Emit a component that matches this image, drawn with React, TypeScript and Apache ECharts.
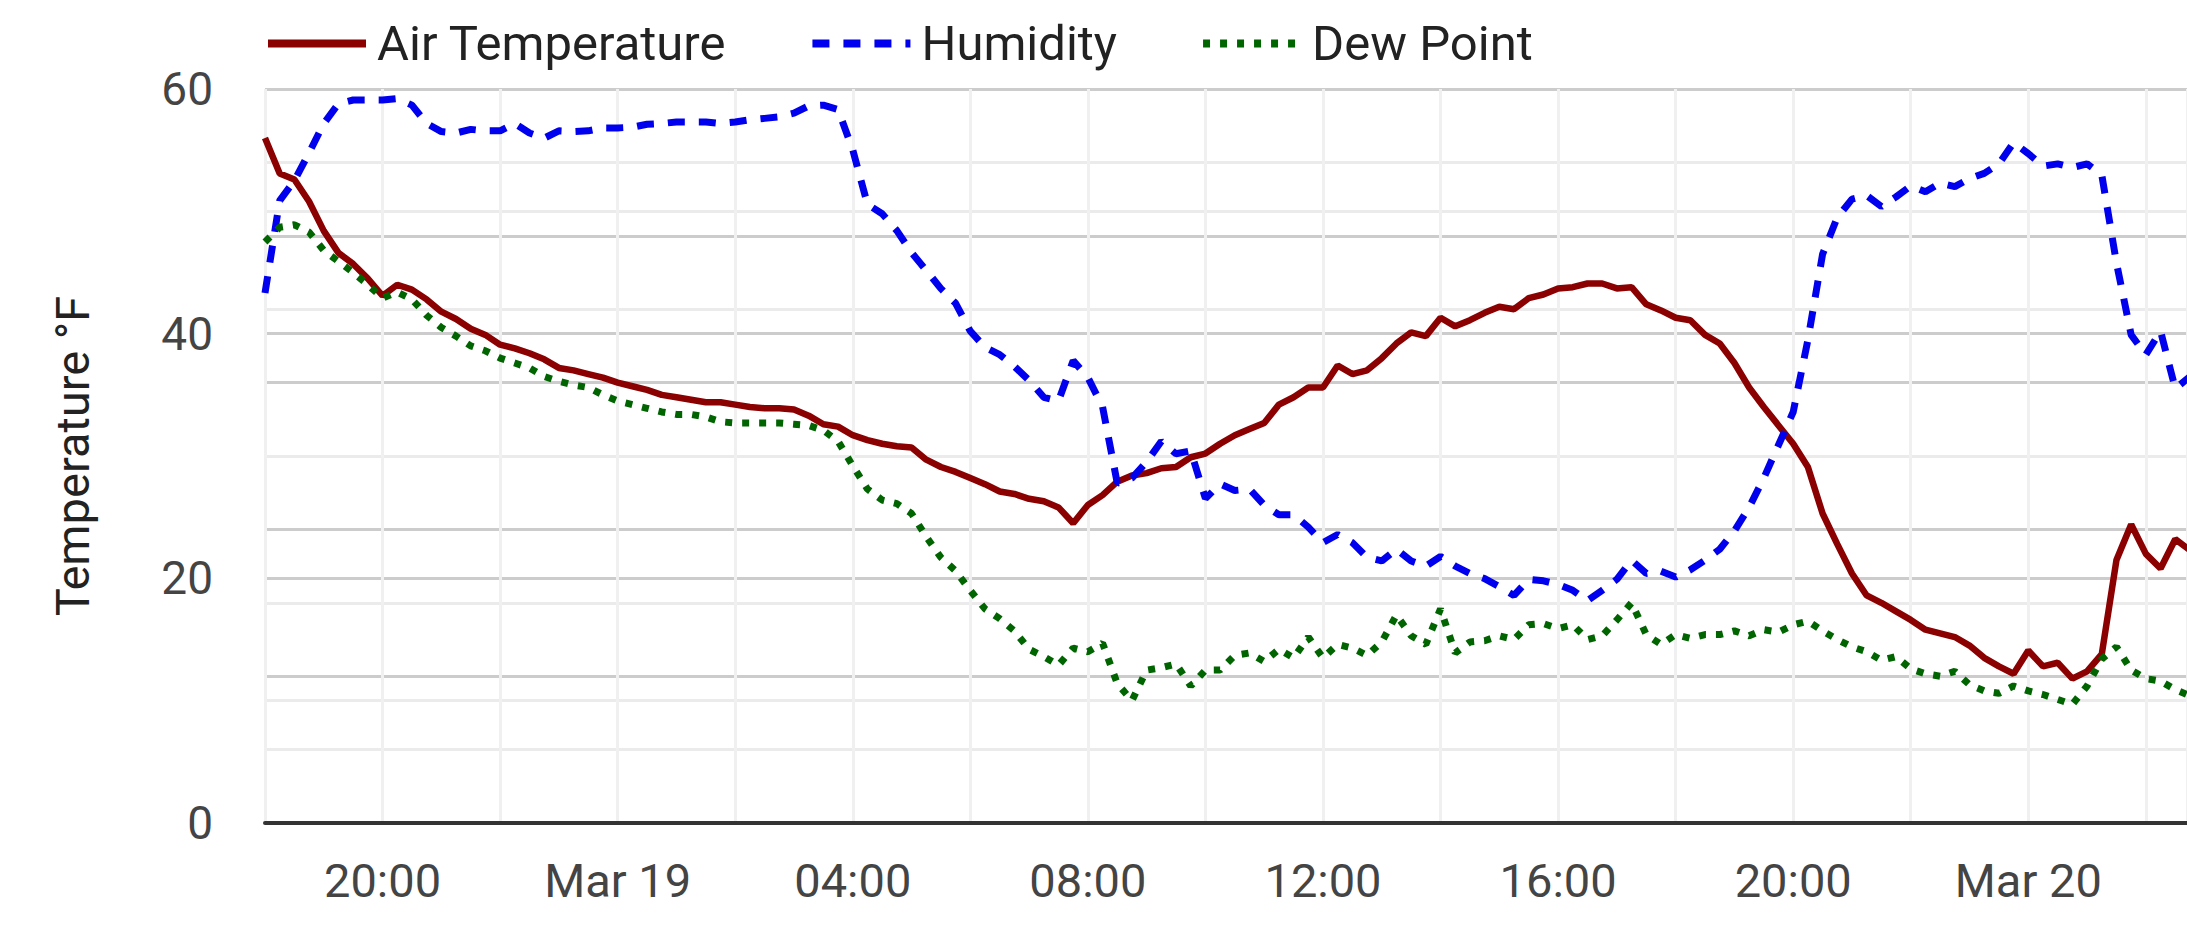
import React, { useEffect, useRef } from "react";
import * as echarts from "echarts";

// Readings every 15 minutes starting Mar 18, 18:00
const START_TIME = Date.UTC(2024, 2, 18, 18, 0);
const STEP_MS = 15 * 60 * 1000;
const AXIS_MAX_TIME = Date.UTC(2024, 2, 20, 2, 42);

const seriesNames = ["Air Temperature", "Humidity", "Dew Point"];
const monthNames = ["Jan", "Feb", "Mar", "Apr", "May", "Jun", "Jul", "Aug", "Sep", "Oct", "Nov", "Dec"];

// °F
const airTemperature = [
  56.0, 53.1, 52.6, 50.8, 48.4, 46.6, 45.7, 44.5, 43.1, 44.0,
  43.6, 42.8, 41.8, 41.2, 40.4, 39.9, 39.1, 38.8, 38.4, 37.9,
  37.2, 37.0, 36.7, 36.4, 36.0, 35.7, 35.4, 35.0, 34.8, 34.6,
  34.4, 34.4, 34.2, 34.0, 33.9, 33.9, 33.8, 33.3, 32.6, 32.4,
  31.7, 31.3, 31.0, 30.8, 30.7, 29.7, 29.1, 28.7, 28.2, 27.7,
  27.1, 26.9, 26.5, 26.3, 25.8, 24.5, 26.0, 26.8, 27.9, 28.4,
  28.6, 29.0, 29.1, 29.9, 30.2, 31.0, 31.7, 32.2, 32.7, 34.2,
  34.8, 35.6, 35.6, 37.4, 36.7, 37.0, 38.0, 39.2, 40.1, 39.8,
  41.3, 40.6, 41.1, 41.7, 42.2, 42.0, 42.9, 43.2, 43.7, 43.8,
  44.1, 44.1, 43.7, 43.8, 42.4, 41.9, 41.3, 41.1, 39.9, 39.2,
  37.6, 35.6, 34.0, 32.5, 31.0, 29.1, 25.3, 22.8, 20.4, 18.6,
  18.0, 17.3, 16.6, 15.8, 15.5, 15.2, 14.5, 13.5, 12.8, 12.2,
  14.1, 12.8, 13.1, 11.8, 12.4, 13.8, 21.5, 24.4, 22.0, 20.8,
  23.2, 22.3,
];

// % relative humidity (right axis, 0–100)
const humidity = [
  72.2, 84.8, 87.5, 91.3, 95.3, 98.0, 98.5, 98.5, 98.5, 98.7,
  97.8, 95.3, 94.2, 94.0, 94.5, 94.3, 94.3, 95.3, 94.0, 93.3,
  94.3, 94.2, 94.3, 94.7, 94.7, 94.8, 95.2, 95.3, 95.5, 95.5,
  95.5, 95.3, 95.5, 95.8, 96.0, 96.2, 96.7, 97.7, 97.8, 97.2,
  91.7, 84.3, 83.0, 80.7, 77.7, 75.3, 72.8, 70.8, 67.0, 64.8,
  63.8, 62.2, 60.3, 58.0, 57.5, 63.0, 60.7, 56.7, 46.3, 47.0,
  49.2, 52.0, 50.3, 50.7, 44.2, 46.2, 45.3, 45.5, 43.3, 42.0,
  42.0, 40.3, 38.2, 39.3, 38.2, 36.2, 35.7, 37.3, 35.7, 35.0,
  36.3, 35.0, 34.0, 33.3, 32.2, 31.0, 33.2, 33.0, 32.5, 31.7,
  30.3, 31.7, 33.2, 35.8, 34.0, 34.3, 33.5, 34.5, 35.8, 37.3,
  39.8, 43.0, 47.0, 51.5, 56.0, 65.8, 77.5, 82.5, 85.0, 85.5,
  84.0, 85.3, 86.8, 86.0, 87.2, 86.7, 87.8, 88.5, 89.8, 92.7,
  91.2, 89.5, 89.8, 89.3, 89.8, 88.3, 76.3, 66.5, 63.8, 67.0,
  59.2, 60.8,
];

// °F
const dewPoint = [
  47.5, 48.7, 48.9, 48.3, 46.8, 45.9, 45.0, 44.0, 42.9, 43.4,
  42.8, 41.5, 40.5, 39.8, 39.0, 38.6, 38.0, 37.6, 37.2, 36.5,
  36.1, 35.8, 35.6, 35.0, 34.5, 34.2, 33.9, 33.6, 33.4, 33.4,
  33.2, 32.8, 32.7, 32.7, 32.7, 32.7, 32.6, 32.5, 32.1, 31.2,
  29.2, 27.3, 26.4, 26.1, 25.3, 23.4, 21.7, 20.6, 19.0, 17.5,
  16.7, 15.7, 14.2, 13.6, 12.9, 14.3, 14.0, 14.7, 11.4, 10.0,
  12.5, 12.7, 13.0, 11.2, 12.5, 12.5, 13.7, 13.9, 13.2, 14.2,
  13.5, 15.2, 13.5, 14.6, 14.3, 13.7, 14.8, 17.0, 15.3, 14.6,
  17.5, 13.9, 14.8, 14.9, 15.3, 15.0, 16.2, 16.3, 15.9, 16.2,
  15.0, 15.3, 16.6, 18.0, 15.4, 14.6, 15.4, 15.1, 15.4, 15.4,
  15.7, 15.3, 15.8, 15.6, 16.2, 16.5, 15.7, 15.0, 14.4, 14.0,
  13.3, 13.6, 12.6, 12.2, 12.0, 12.4, 11.3, 10.8, 10.6, 11.2,
  10.8, 10.5, 10.1, 9.7, 11.2, 13.4, 14.4, 12.5, 11.8, 11.6,
  10.9, 10.4,
];

const times = airTemperature.map((_, i) => START_TIME + i * STEP_MS);
const pairs = (values: number[]) => values.map((v, i) => [times[i], v]);

const FONT = "Roboto";

function formatTimeLabel(value: number): string {
  const d = new Date(value);
  const h = d.getUTCHours();
  const m = d.getUTCMinutes();
  if (m !== 0 || h % 4 !== 0) return "";
  if (h === 0) return `${monthNames[d.getUTCMonth()]} ${d.getUTCDate()}`;
  return `${String(h).padStart(2, "0")}:00`;
}

export default function App() {
  const ref = useRef<HTMLDivElement>(null);

  useEffect(() => {
    if (!ref.current) return;
    const chart = echarts.init(ref.current, undefined, { renderer: "svg" });
    const majorSplit = { show: true, lineStyle: { color: "#cccccc", width: 3 } };
    const minorSplit = { show: true, lineStyle: { color: "#ebebeb", width: 3 } };

    chart.setOption({
      animation: false,
      useUTC: true,
      backgroundColor: "#ffffff",
      textStyle: { fontFamily: FONT },
      legend: {
        left: 264,
        top: 19,
        padding: 0,
        itemWidth: 98,
        itemHeight: 14,
        itemGap: 82,
        data: seriesNames,
        itemStyle: { opacity: 0 },
        lineStyle: { width: 8 },
        textStyle: { fontSize: 49, color: "#222222", fontFamily: FONT, padding: [0, 0, 0, 6] },
      },
      grid: { left: 265, right: 0, top: 89, bottom: 116, containLabel: false },
      xAxis: {
        type: "time",
        min: START_TIME,
        max: AXIS_MAX_TIME,
        minInterval: 3 * 3600 * 1000,
        maxInterval: 3 * 3600 * 1000,
        axisLine: { show: true, onZero: false, lineStyle: { color: "#333333", width: 4 } },
        axisTick: { show: false },
        axisLabel: {
          fontSize: 47,
          color: "#444444",
          fontFamily: FONT,
          margin: 34,
          showMinLabel: false,
          showMaxLabel: false,
          hideOverlap: false,
          formatter: (value: number) => formatTimeLabel(value),
        },
        splitLine: { show: true, lineStyle: { color: "#f0f0f0", width: 3 } },
      },
      yAxis: [
        {
          type: "value",
          position: "left",
          min: 0,
          max: 60,
          interval: 20,
          name: "Temperature °F",
          nameLocation: "middle",
          nameGap: 169,
          nameRotate: 90,
          nameTextStyle: { fontSize: 47, color: "#222222", fontFamily: FONT },
          axisLine: { show: false },
          axisTick: { show: false },
          axisLabel: { fontSize: 46, color: "#444444", fontFamily: FONT, margin: 52 },
          splitLine: majorSplit,
          minorTick: { show: false, splitNumber: 2 },
          minorSplitLine: minorSplit,
        },
        {
          type: "value",
          position: "right",
          min: 0,
          max: 100,
          interval: 20,
          axisLine: { show: false },
          axisTick: { show: false },
          axisLabel: { show: false },
          splitLine: majorSplit,
          minorTick: { show: false, splitNumber: 2 },
          minorSplitLine: minorSplit,
        },
      ],
      series: [
        {
          name: seriesNames[0],
          type: "line",
          yAxisIndex: 0,
          data: pairs(airTemperature),
          symbol: "none",
          itemStyle: { color: "#8b0000" },
          lineStyle: { color: "#8b0000", width: 6.5 },
        },
        {
          name: seriesNames[1],
          type: "line",
          yAxisIndex: 1,
          data: pairs(humidity),
          symbol: "none",
          itemStyle: { color: "#0000ee" },
          lineStyle: { color: "#0000ee", width: 7, type: [17, 14] },
        },
        {
          name: seriesNames[2],
          type: "line",
          yAxisIndex: 0,
          data: pairs(dewPoint),
          symbol: "none",
          itemStyle: { color: "#006400" },
          lineStyle: { color: "#006400", width: 7, type: [7, 10] },
        },
      ],
    });

    return () => chart.dispose();
  }, []);

  return (
    <div
      ref={ref}
      style={{ position: "absolute", left: 0, top: 0, width: 2187, height: 939, overflow: "hidden" }}
    />
  );
}
